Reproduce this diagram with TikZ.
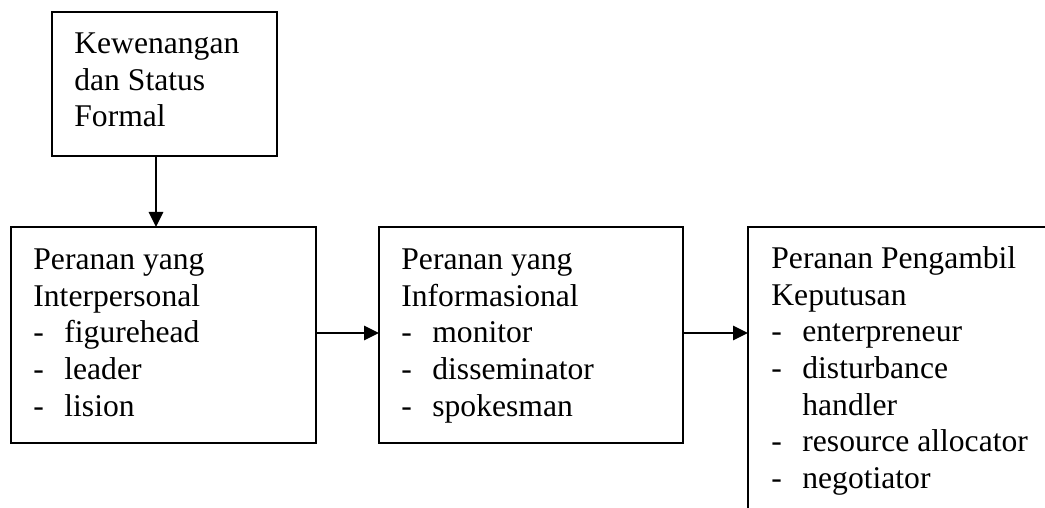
\documentclass[tikz,border=0pt]{standalone}
\usepackage{fontspec}
\setmainfont{Liberation Serif}
\usetikzlibrary{arrows.meta}

\tikzset{every picture/.style={line width=1.4pt}}
\tikzset{
  kotak/.style={draw, inner sep=0pt, outer sep=0pt, anchor=north west},
  teks/.style={inner sep=0pt, anchor=north west, align=left, font={\fontsize{15.8pt}{18.35pt}\selectfont}},
  panah/.style={-{Triangle[length=7.5pt,width=7pt]}}
}
\newcommand{\butir}[1]{\makebox[15.5pt][l]{-}#1}

\begin{document}
\begin{tikzpicture}[x=0.5pt,y=0.5pt,yscale=-1,xscale=1]
\useasboundingbox (0,0) rectangle (1045,508);
%Kotak atas
\node[kotak, minimum width=112.5pt, minimum height=72pt] (status) at (52,12) {};
%Kotak peranan
\node[kotak, minimum width=152.5pt, minimum height=108pt] (inter) at (11,227) {};
\node[kotak, minimum width=152pt, minimum height=108pt] (info) at (379,227) {};
\node[kotak, minimum width=160pt, minimum height=150pt] (putus) at (748,227) {};

% Text Node
\node[teks] (statusT) at ([shift={(21,14.3)}]status.north west) {\strut Kewenangan\\dan Status\\Formal};
% Text Node
\node[teks] (interT) at ([shift={(21,15.3)}]inter.north west) {\strut Peranan yang\\Interpersonal\\\butir{figurehead}\\\butir{leader}\\\butir{lision}};
% Text Node
\node[teks] (infoT) at ([shift={(21,15.3)}]info.north west) {\strut Peranan yang\\Informasional\\\butir{monitor}\\\butir{disseminator}\\\butir{spokesman}};
% Text Node
\node[teks] (putusT) at ([shift={(22,14.3)}]putus.north west) {\strut Peranan Pengambil\\Keputusan\\\butir{enterpreneur}\\\butir{disturbance}\\\hspace*{15.5pt}handler\\\butir{resource allocator}\\\butir{negotiator}};

%Panah
\draw[panah] ([xshift=-4.25pt]status.south) -- ([xshift=-4.25pt]status.south |- inter.north);
\draw[panah] ([yshift=-1pt]inter.east) -- ([yshift=-1pt]info.west);
\draw[panah] ([yshift=-1pt]info.east) -- ([yshift=-1pt]info.east -| putus.west);
\end{tikzpicture}
\end{document}
